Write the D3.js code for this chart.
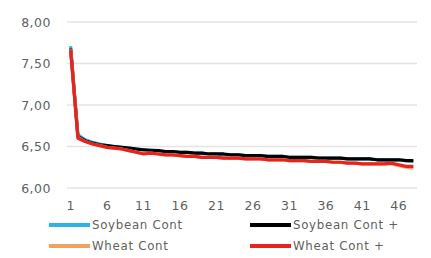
<!DOCTYPE html>
<html>
<head>
<meta charset="utf-8">
<script src="https://cdn.jsdelivr.net/npm/d3@7"></script>
<style>
body { margin: 0; background: #fff; }
text { font-family: "DejaVu Sans", sans-serif; fill: #5f5f5f; }
</style>
</head>
<body>
<div id="chart"></div>
<script>
// x categories 1..48
var periods = d3.range(1, 49);
var xTicks = [1, 6, 11, 16, 21, 26, 31, 36, 41, 46];
var yTicks = [6.0, 6.5, 7.0, 7.5, 8.0];

var soybeanCont = [7.71, 6.64, 6.58, 6.55, 6.53, 6.51, 6.50, 6.49, 6.48, 6.47, 6.46, 6.46, 6.45, 6.44, 6.44, 6.43,
    6.43, 6.42, 6.42, 6.41, 6.41, 6.40, 6.40, 6.40, 6.39, 6.39, 6.39, 6.38, 6.38, 6.38, 6.37, 6.37,
    6.37, 6.37, 6.36, 6.36, 6.36, 6.36, 6.35, 6.35, 6.35, 6.35, 6.34, 6.34, 6.34, 6.34, 6.33, 6.32];
var soybeanContPlus = [7.68, 6.62, 6.57, 6.54, 6.52, 6.51, 6.50, 6.49, 6.48, 6.47, 6.46, 6.45, 6.45, 6.44, 6.44, 6.43,
    6.43, 6.42, 6.42, 6.41, 6.41, 6.41, 6.40, 6.40, 6.39, 6.39, 6.39, 6.38, 6.38, 6.38, 6.37, 6.37,
    6.37, 6.37, 6.36, 6.36, 6.36, 6.36, 6.35, 6.35, 6.35, 6.35, 6.34, 6.34, 6.34, 6.34, 6.33, 6.33];
var wheatCont = [7.67, 6.61, 6.56, 6.53, 6.51, 6.49, 6.48, 6.47, 6.45, 6.43, 6.42, 6.42, 6.41, 6.40, 6.40, 6.39,
    6.38, 6.38, 6.37, 6.37, 6.37, 6.36, 6.36, 6.36, 6.35, 6.35, 6.35, 6.34, 6.34, 6.34, 6.33, 6.33,
    6.33, 6.32, 6.32, 6.32, 6.31, 6.31, 6.30, 6.30, 6.29, 6.29, 6.29, 6.29, 6.29, 6.27, 6.25, 6.24];
var wheatContPlus = [7.66, 6.60, 6.56, 6.53, 6.51, 6.49, 6.48, 6.47, 6.45, 6.43, 6.41, 6.42, 6.41, 6.40, 6.40, 6.39,
    6.38, 6.38, 6.37, 6.37, 6.37, 6.36, 6.36, 6.36, 6.35, 6.35, 6.35, 6.34, 6.34, 6.34, 6.33, 6.33,
    6.33, 6.32, 6.32, 6.32, 6.31, 6.31, 6.30, 6.30, 6.29, 6.29, 6.29, 6.29, 6.30, 6.28, 6.26, 6.26];

var seriesNames = ["Soybean Cont", "Soybean Cont +", "Wheat Cont", "Wheat Cont +"];
var seriesColors = ["#2fb3e4", "#000000", "#f3a15e", "#e8231d"];
var seriesData = [soybeanCont, soybeanContPlus, wheatCont, wheatContPlus];

var width = 431, height = 258;
var plotLeft = 67, plotRight = 417, plotTop = 22, plotBottom = 188;

var svg = d3.select("#chart").append("svg")
    .attr("width", width)
    .attr("height", height);

var x = d3.scaleBand().domain(periods).range([plotLeft, plotRight]);
var y = d3.scaleLinear().domain([6, 8]).range([plotBottom, plotTop]);

// gridlines
svg.selectAll(".grid")
    .data(yTicks)
    .enter().append("line")
    .attr("x1", plotLeft).attr("x2", plotRight)
    .attr("y1", function(d){ return y(d); })
    .attr("y2", function(d){ return y(d); })
    .attr("stroke", "#e4e4e4")
    .attr("stroke-width", 1.3);

// y labels
var fmt = function(d){ return d3.format(".2f")(d).replace(".", ","); };
svg.selectAll(".ylab")
    .data(yTicks)
    .enter().append("text")
    .attr("x", 51)
    .attr("y", function(d){ return y(d) + 4.5; })
    .attr("text-anchor", "end")
    .style("font-size", "12.5px")
    .style("letter-spacing", "0.5px")
    .text(fmt);

// x labels
svg.selectAll(".xlab")
    .data(xTicks)
    .enter().append("text")
    .attr("x", function(d){ return x(d) + x.bandwidth() / 2; })
    .attr("y", 210)
    .attr("text-anchor", "middle")
    .style("font-size", "12.5px")
    .style("letter-spacing", "0.5px")
    .text(function(d){ return d; });

var line = d3.line()
    .x(function(d, i){ return x(periods[i]) + x.bandwidth() / 2; })
    .y(function(d){ return y(d); });

seriesData.forEach(function(s, k){
    svg.append("path")
        .datum(s)
        .attr("d", line)
        .attr("fill", "none")
        .attr("stroke", seriesColors[k])
        .attr("stroke-width", 3.2)
        .attr("stroke-linejoin", "round");
});

// legend
var legendPos = [[49, 225], [250, 225], [49, 246], [250, 246]];
seriesNames.forEach(function(name, k){
    var p = legendPos[k];
    svg.append("line")
        .attr("x1", p[0]).attr("x2", p[0] + 41)
        .attr("y1", p[1]).attr("y2", p[1])
        .attr("stroke", seriesColors[k])
        .attr("stroke-width", 4);
    svg.append("text")
        .attr("x", p[0] + 43)
        .attr("y", p[1] + 4)
        .style("font-size", "11.8px")
        .style("letter-spacing", "0.7px")
        .text(name);
});
</script>
</body>
</html>
